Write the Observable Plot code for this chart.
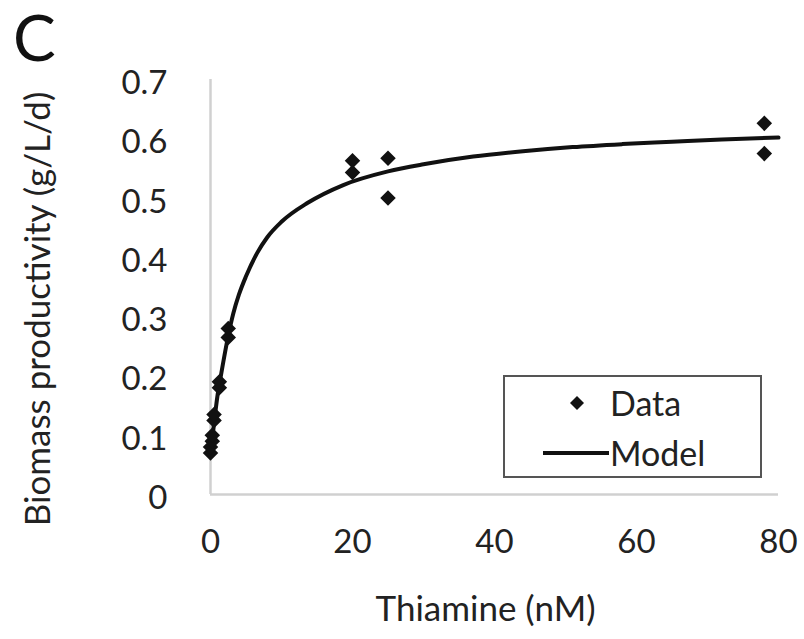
<!DOCTYPE html>
<html>
<head>
<meta charset="utf-8">
<script src="https://cdn.jsdelivr.net/npm/d3@7"></script>
<script src="https://cdn.jsdelivr.net/npm/@observablehq/plot@0.6"></script>
<style>
  html, body { margin: 0; padding: 0; background: #fff; }
  #wrap { position: relative; width: 804px; height: 639px; overflow: hidden; font-family: Lato, "Open Sans", sans-serif; color: #222; }
  #chart { position: absolute; left: 0; top: 0; }
  #panel { position: absolute; left: 13px; top: 2px; font-size: 64px; line-height: 70px; color: #111; }
  #legend { position: absolute; left: 503px; top: 375px; width: 255px; height: 99px; border: 2px solid #555; background: #fff; }
  #legend .row { position: absolute; left: 0; height: 40px; font-size: 34px; line-height: 40px; }
  #legend .lab { position: absolute; left: 105px; top: 0; white-space: nowrap; }
</style>
</head>
<body>
<div id="wrap">
  <div id="chart"></div>
  <div id="panel">C</div>
  <div id="legend">
    <div class="row" style="top:6px; width:250px;">
      <svg width="100" height="40" style="position:absolute;left:0;top:0"><path d="M72,13 L79,20 L72,27 L65,20 Z" fill="#111"/></svg>
      <span class="lab">Data</span>
    </div>
    <div class="row" style="top:56px; width:250px;">
      <svg width="106" height="40" style="position:absolute;left:0;top:0"><line x1="38" x2="104" y1="20" y2="20" stroke="#111" stroke-width="4"/></svg>
      <span class="lab">Model</span>
    </div>
  </div>
</div>
<script>
// Measured data (thiamine nM, biomass productivity g/L/d)
const dataX = [0, 0, 0.25, 0.25, 0.5, 0.5, 1.25, 1.25, 2.5, 2.5, 20, 20, 25, 25, 78, 78];
const dataY = [0.07, 0.08, 0.09, 0.10, 0.125, 0.135, 0.18, 0.19, 0.265, 0.28, 0.543, 0.563, 0.50, 0.567, 0.575, 0.626];

// Model curve
const modelX = [0, 0.5, 1, 1.5, 2.5, 3.2, 4, 5, 6.6, 8, 10, 13.7, 18.7, 25, 30, 37, 44, 51, 58, 65, 72, 80];
const modelY = [0.065, 0.12, 0.168, 0.203, 0.268, 0.305, 0.337, 0.368, 0.408, 0.434, 0.460, 0.492, 0.522, 0.545, 0.557, 0.570, 0.579, 0.586, 0.591, 0.595, 0.599, 0.602];

const xTicks = [0, 20, 40, 60, 80];
const yTicks = [0, 0.1, 0.2, 0.3, 0.4, 0.5, 0.6, 0.7];
const xLabel = "Thiamine (nM)";
const yLabel = "Biomass productivity (g/L/d)";

const points = dataX.map((x, i) => ({x, y: dataY[i]}));
const model = modelX.map((x, i) => ({x, y: modelY[i]}));

const chart = Plot.plot({
  width: 804,
  height: 639,
  marginLeft: 210,
  marginRight: 26,
  marginTop: 79,
  marginBottom: 145,
  style: { fontFamily: "Lato, 'Open Sans', sans-serif", fontSize: "33px", color: "#222", background: "transparent" },
  x: { domain: [0, 80] },
  y: { domain: [0, 0.7] },
  marks: [
    Plot.ruleY([0], { stroke: "#d0d0d0", strokeWidth: 2.5 }),
    Plot.ruleX([0], { stroke: "#d0d0d0", strokeWidth: 2.5 }),
    Plot.axisX({ ticks: xTicks, tickSize: 0, tickPadding: 35, fontSize: 33, label: null }),
    Plot.axisY({ ticks: yTicks, tickSize: 0, tickPadding: 43, fontSize: 33, dy: 4, tickFormat: d => d === 0 ? "0" : d.toFixed(1), label: null }),
    Plot.text([xLabel], { text: d => d, frameAnchor: "bottom", textAnchor: "middle", lineAnchor: "middle", dx: -9, dy: 115, fontSize: 35, fill: "#222" }),
    Plot.text([yLabel], { text: d => d, frameAnchor: "left", textAnchor: "middle", lineAnchor: "middle", rotate: -90, dx: -172, dy: 22, fontSize: 35, fill: "#222" }),
    Plot.line(model, { x: "x", y: "y", stroke: "#111", strokeWidth: 4, curve: "monotone-x" }),
    Plot.dot(points, { x: "x", y: "y", symbol: "diamond2", r: 7, fill: "#111", stroke: "none" })
  ]
});
document.getElementById("chart").appendChild(chart);
</script>
</body>
</html>
